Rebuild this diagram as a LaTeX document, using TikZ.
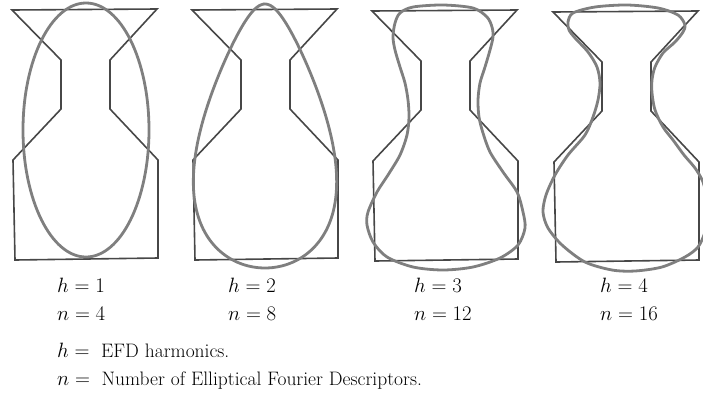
\documentclass[tikz,border=0pt]{standalone}
\usepackage{amsmath}
\usetikzlibrary{positioning}

\definecolor{vasegray}{HTML}{474747}
\definecolor{efdgray}{HTML}{7F7F7F}

\begin{document}
\begin{tikzpicture}[
    x=1pt, y=-1pt,
    node distance=28pt,
    vase/.style={draw=vasegray, line width=1.6pt, line join=miter},
    efd/.style={draw=efdgray, line width=2.8pt},
    lbl/.style={font=\fontsize{19.5}{23}\selectfont, inner sep=0pt, anchor=base west}
]
\useasboundingbox (0,0) rectangle (703,405);

% original outlines
\foreach \dx/\dy in {0/0, 180/0, 360/1, 541/2}
  \draw[vase, shift={(\dx,\dy)}] (12,10) -- (157,9) -- (110,60) -- (110,109) -- (158,160)
    -- (158,258) -- (15,260) -- (13,160) -- (61,109) -- (61,60) -- cycle;

% reconstructed contours
\draw[efd] (86,130) ellipse [x radius=63, y radius=127];
\draw[efd] plot[domain=0:360, samples=120, smooth, variable=\t]
  ({265 + 66*sin(\t) - 15*sin(2*\t)}, {136 - 132*cos(\t)}) -- cycle;
\draw[efd] plot[smooth cycle] coordinates {
  (443,5) (473,8) (487,17) (492,27) (493,37) (490,50) (485,67) (480,83)
  (478,100) (479,117) (483,133) (490,152) (503,172) (517,192) (523,212)
  (525,228) (518,245) (500,258) (473,267) (443,270) (413,267) (387,257)
  (373,242) (367,225) (368,212) (377,192) (388,175) (400,155) (407,135)
  (409,117) (408,100) (405,83) (400,67) (395,50) (393,37) (395,23)
  (400,13) (413,7)};
\draw[efd] plot[smooth cycle] coordinates {
  (627,5) (658,8) (678,15) (685,25) (683,32) (675,42) (663,53) (655,67)
  (652,80) (652,93) (655,110) (663,127) (673,140) (684,155) (695,168)
  (703,182) (707,200) (708,215) (705,232) (698,247) (685,257) (662,267)
  (635,271) (612,270) (585,262) (562,245) (548,228) (543,212) (546,195)
  (555,175) (568,155) (585,135) (593,117) (598,100) (600,83) (597,67)
  (588,52) (575,38) (569,30) (568,22) (573,13) (595,7)};

% labels
\node[lbl] (h1) at (57,292) {$h=1$};
\node[lbl] (h2) at (228,292) {$h=2$};
\node[lbl] (h3) at (414,292) {$h=3$};
\node[lbl] (h4) at (600,292) {$h=4$};
\node[lbl, below=of h1.base west, anchor=base west] (n1) {$n=4$};
\node[lbl, below=of h2.base west, anchor=base west] (n2) {$n=8$};
\node[lbl, below=of h3.base west, anchor=base west] (n3) {$n=12$};
\node[lbl, below=of h4.base west, anchor=base west] (n4) {$n=16$};

% key
\node[lbl] (hkey) at (57,357) {$h={}$ EFD harmonics.};
\node[lbl, below=of hkey.base west, anchor=base west] (nkey) {$n={}$ Number of Elliptical Fourier Descriptors.};
\end{tikzpicture}
\end{document}
